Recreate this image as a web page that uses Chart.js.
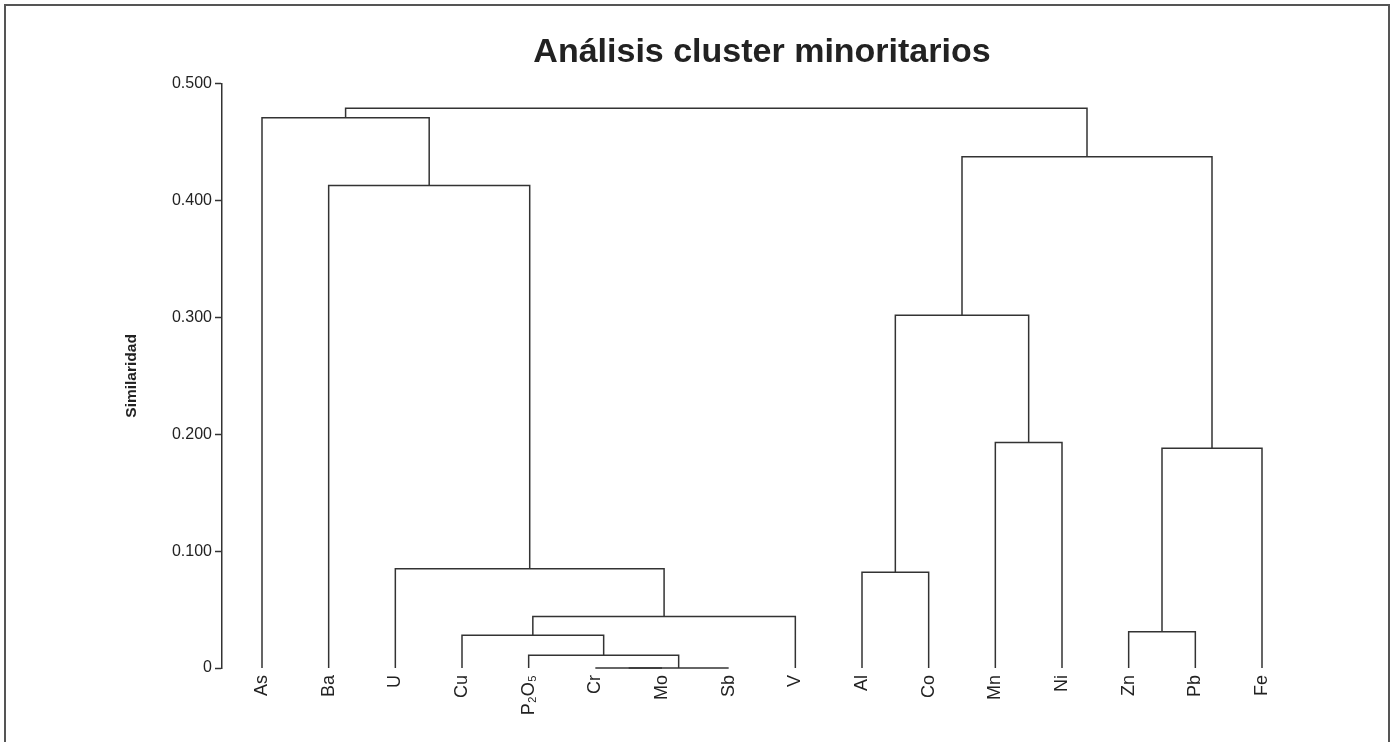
<!DOCTYPE html>
<html>
<head>
<meta charset="utf-8">
<title>Análisis cluster minoritarios</title>
<script src="https://cdn.jsdelivr.net/npm/chart.js@4.4.1/dist/chart.umd.min.js"></script>
<style>
    html, body { margin: 0; padding: 0; background: #ffffff; overflow: hidden; }
    #wrap { position: relative; width: 1391px; height: 742px; }
    #frame {
        position: absolute; left: 4px; top: 4px; width: 1382px; height: 760px;
        border: 2px solid #555555; pointer-events: none;
    }
</style>
</head>
<body>
<div id="wrap">
    <canvas id="chart" width="1391" height="742"></canvas>
    <div id="frame"></div>
</div>
<script>
// Leaves of the dendrogram, in drawing order
const leaves = ['As', 'Ba', 'U', 'Cu', 'P\u2082O\u2085', 'Cr', 'Mo', 'Sb', 'V', 'Al', 'Co', 'Mn', 'Ni', 'Zn', 'Pb', 'Fe'];

// Merge steps: each pair joins two leaves or earlier merges ('#n' = merge n, 1-based)
const mergePairs = [
    ['Cr', 'Mo'],
    ['#1', 'Sb'],
    ['P\u2082O\u2085', '#2'],
    ['Cu', '#3'],
    ['Zn', 'Pb'],
    ['#4', 'V'],
    ['Al', 'Co'],
    ['U', '#6'],
    ['#5', 'Fe'],
    ['Mn', 'Ni'],
    ['#7', '#10'],
    ['Ba', '#8'],
    ['#11', '#9'],
    ['As', '#12'],
    ['#14', '#13']
];

// Similarity level of each merge
const mergeHeights = [0, 0, 0.011, 0.028, 0.031, 0.044, 0.082, 0.085, 0.188, 0.193, 0.302, 0.413, 0.4375, 0.471, 0.479];

// Y axis tick values
const yTicks = [0, 0.1, 0.2, 0.3, 0.4, 0.5];

const lineColor = '#333333';
const textColor = '#222222';

/**
 * Resolve a node reference to its x position and height
 */
function nodeInfo(ref, nodes) {
    if (ref.charAt(0) === '#') {
        return nodes[parseInt(ref.slice(1), 10) - 1];
    }
    return { x: leaves.indexOf(ref), h: 0 };
}

/**
 * Build one bracket-shaped line dataset per merge
 */
function buildDatasets() {
    const nodes = [];
    const datasets = [];

    mergePairs.forEach((pair, i) => {
        const a = nodeInfo(pair[0], nodes);
        const b = nodeInfo(pair[1], nodes);
        const h = mergeHeights[i];
        nodes.push({ x: (a.x + b.x) / 2, h: h });

        datasets.push({
            data: [
                { x: a.x, y: a.h },
                { x: a.x, y: h },
                { x: b.x, y: h },
                { x: b.x, y: b.h }
            ],
            showLine: true,
            borderColor: lineColor,
            borderWidth: 1.5,
            pointRadius: 0,
            pointHoverRadius: 0,
            tension: 0,
            fill: false,
            clip: false
        });
    });

    return datasets;
}

const ctx = document.getElementById('chart').getContext('2d');

new Chart(ctx, {
    type: 'scatter',
    data: { datasets: buildDatasets() },
    options: {
        responsive: false,
        animation: false,
        events: [],
        layout: {
            padding: { left: 0, right: 89, top: 0, bottom: 0 }
        },
        plugins: {
            legend: { display: false },
            tooltip: { enabled: false },
            title: {
                display: true,
                text: 'Análisis cluster minoritarios',
                fullSize: false,
                color: textColor,
                font: { family: '"Liberation Sans", Arial, sans-serif', size: 34, weight: 'bold' },
                padding: { top: 32, bottom: 11 }
            }
        },
        scales: {
            x: {
                type: 'linear',
                min: -0.6,
                max: 15.6,
                afterBuildTicks: (scale) => {
                    scale.ticks = leaves.map((_, i) => ({ value: i }));
                },
                afterFit: (scale) => {
                    scale.height = 74;
                },
                grid: { display: false, drawTicks: false },
                border: { display: false },
                ticks: {
                    autoSkip: false,
                    minRotation: 90,
                    maxRotation: 90,
                    padding: 7,
                    color: textColor,
                    font: { family: '"Liberation Sans", Arial, sans-serif', size: 18 },
                    callback: (value) => leaves[value]
                }
            },
            y: {
                type: 'linear',
                min: 0,
                max: 0.5,
                afterBuildTicks: (scale) => {
                    scale.ticks = yTicks.map(v => ({ value: v }));
                },
                afterFit: (scale) => {
                    scale.width = 222;
                },
                grid: {
                    display: true,
                    drawOnChartArea: false,
                    drawTicks: true,
                    tickLength: 7,
                    tickWidth: 1.5,
                    color: lineColor
                },
                border: { display: true, color: lineColor, width: 1.5 },
                ticks: {
                    padding: 3,
                    color: textColor,
                    font: { family: '"Liberation Sans", Arial, sans-serif', size: 16 },
                    callback: (value) => value === 0 ? '0' : value.toFixed(3)
                },
                title: {
                    display: true,
                    text: 'Similaridad',
                    color: textColor,
                    font: { family: '"Liberation Sans", Arial, sans-serif', size: 15.5, weight: 'bold' },
                    padding: { top: 122, bottom: 0 }
                }
            }
        }
    }
});
</script>
</body>
</html>
